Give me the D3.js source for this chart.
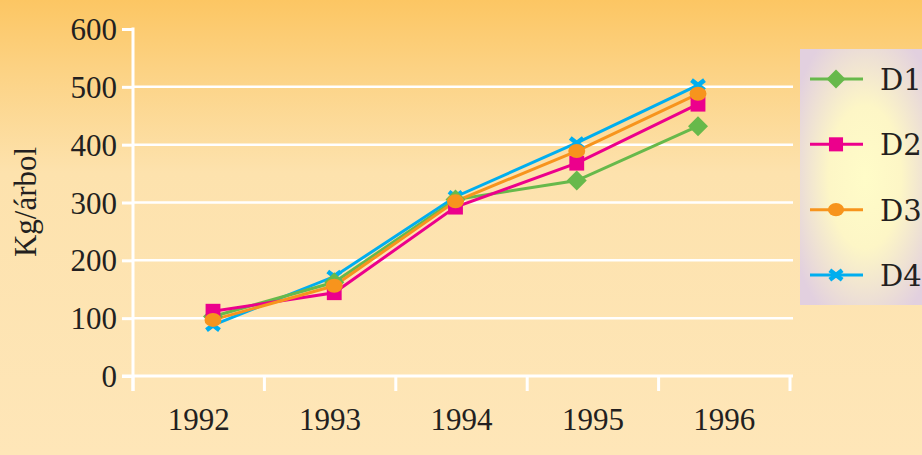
<!DOCTYPE html>
<html>
<head>
<meta charset="utf-8">
<script src="https://d3js.org/d3.v7.min.js"></script>
<style>
  body { margin: 0; padding: 0; overflow: hidden; }
</style>
</head>
<body>
<div id="chart"></div>
<script>

// data (kg per tree)
var years = ["1992", "1993", "1994", "1995", "1996"];
var seriesNames = ["D1", "D2", "D3", "D4"];
var d1 = [103, 162, 305, 338, 432];
var d2 = [112, 144, 292, 368, 470];
var d3v = [97, 156, 302, 389, 488];
var d4 = [88, 172, 310, 403, 503];
var yTicks = [0, 100, 200, 300, 400, 500, 600];
var yTitle = "Kg/árbol";

var colors = { D1: "#67b94b", D2: "#ec008c", D3: "#f7941d", D4: "#00aeef" };
var values = { D1: d1, D2: d2, D3: d3v, D4: d4 };

var FONT = "Liberation Serif";
var INK = "#231f20";

var W = 922, H = 455;

var svg = d3.select("#chart").append("svg")
    .attr("width", W)
    .attr("height", H)
    .style("font-family", "'Liberation Serif', 'DejaVu Serif', serif");

var defs = svg.append("defs");

// background, orange at top fading to cream
var bg = defs.append("linearGradient")
    .attr("id", "bg").attr("x1", 0).attr("y1", 0).attr("x2", 0).attr("y2", 1);
bg.append("stop").attr("offset", "0%").attr("stop-color", "#fcc663");
bg.append("stop").attr("offset", "15%").attr("stop-color", "#fcd283");
bg.append("stop").attr("offset", "38%").attr("stop-color", "#fde2ad");
bg.append("stop").attr("offset", "100%").attr("stop-color", "#fee6b8");

// legend box, yellow centre, lilac edges
var lg = defs.append("radialGradient")
    .attr("id", "lg").attr("cx", "50%").attr("cy", "50%").attr("r", "62%");
lg.append("stop").attr("offset", "0%").attr("stop-color", "#fffcc8");
lg.append("stop").attr("offset", "45%").attr("stop-color", "#fdf6c6");
lg.append("stop").attr("offset", "100%").attr("stop-color", "#e2d0df");

svg.append("rect")
    .attr("width", W).attr("height", H)
    .attr("fill", "url(#bg)");

// scales
var x = d3.scaleBand().domain(years).range([133, 790]);
var xp = d3.scalePoint().domain(years).range([213, 698]);
var y = d3.scaleLinear().domain([0, 600]).range([376, 29]);

// gridlines
svg.selectAll(".grid")
    .data(yTicks.filter(function(t){ return t > 0 && t < 600; }))
    .enter().append("line")
    .attr("class", "grid")
    .attr("x1", 133).attr("x2", 793)
    .attr("y1", function(d){ return y(d); })
    .attr("y2", function(d){ return y(d); })
    .attr("stroke", "#fff").attr("stroke-width", 2.5);

// y axis
var yAxis = svg.append("g")
    .attr("transform", "translate(133,0)")
    .call(d3.axisLeft(y).tickValues(yTicks).tickSize(11).tickPadding(5));
yAxis.attr("font-family", null).attr("font-size", null);
yAxis.select(".domain").remove();
yAxis.selectAll(".tick line").attr("stroke", "#fff").attr("stroke-width", 3);
yAxis.selectAll(".tick text")
    .style("font-family", FONT)
    .style("font-size", "31px")
    .attr("fill", INK)
    .attr("dy", "0.34em");

svg.append("line")
    .attr("x1", 133).attr("x2", 133)
    .attr("y1", y(600) - 1.5).attr("y2", 391)
    .attr("stroke", "#fff").attr("stroke-width", 3);

// x axis
var xAxis = svg.append("g")
    .attr("transform", "translate(0,376)");
xAxis.append("line")
    .attr("x1", 122).attr("x2", 793)
    .attr("stroke", "#fff").attr("stroke-width", 3);
var xEdges = years.map(function(d){ return x(d); }).concat([x.range()[1]]);
xAxis.selectAll(".xtick")
    .data(xEdges)
    .enter().append("line")
    .attr("class", "xtick")
    .attr("x1", function(d){ return d; })
    .attr("x2", function(d){ return d; })
    .attr("y1", 0).attr("y2", 15)
    .attr("stroke", "#fff").attr("stroke-width", 3);
xAxis.selectAll(".xlabel")
    .data(years)
    .enter().append("text")
    .attr("class", "xlabel")
    .attr("x", function(d){ return x(d) + x.bandwidth() / 2; })
    .attr("y", 54)
    .attr("text-anchor", "middle")
    .style("font-family", FONT)
    .style("font-size", "31px")
    .attr("fill", INK)
    .text(function(d){ return d; });

// y title
svg.append("text")
    .attr("transform", "translate(36,202) rotate(-90)")
    .attr("text-anchor", "middle")
    .style("font-family", FONT)
    .style("font-size", "31px")
    .attr("fill", INK)
    .text(yTitle);

// marker drawing
function drawMarker(g, name, cx, cy, scale){
    var s = scale || 1;
    var c = colors[name];
    if (name === "D1"){
        g.append("path")
            .attr("d", d3.symbol().type(d3.symbolSquare).size(200 * s * s)())
            .attr("transform", "translate(" + cx + "," + cy + ") rotate(45)")
            .attr("fill", c);
    } else if (name === "D2"){
        g.append("path")
            .attr("d", d3.symbol().type(d3.symbolSquare).size(220 * s * s)())
            .attr("transform", "translate(" + cx + "," + cy + ")")
            .attr("fill", c);
    } else if (name === "D3"){
        g.append("ellipse")
            .attr("cx", cx).attr("cy", cy)
            .attr("rx", 8.5 * s).attr("ry", 7 * s)
            .attr("fill", c);
    } else {
        var dx = 6.5 * s, dy = 5 * s;
        g.append("path")
            .attr("d", "M" + (cx - dx) + "," + (cy - dy) + "L" + (cx + dx) + "," + (cy + dy) +
                       "M" + (cx + dx) + "," + (cy - dy) + "L" + (cx - dx) + "," + (cy + dy))
            .attr("stroke", c).attr("stroke-width", 4.5).attr("fill", "none");
    }
}

var line = d3.line()
    .x(function(d, i){ return xp(years[i]); })
    .y(function(d){ return y(d); });

var drawOrder = ["D4", "D1", "D2", "D3"];
var plot = svg.append("g");

drawOrder.forEach(function(name){
    plot.append("path")
        .datum(values[name])
        .attr("d", line)
        .attr("fill", "none")
        .attr("stroke", colors[name])
        .attr("stroke-width", 3);
});
drawOrder.forEach(function(name){
    values[name].forEach(function(v, i){
        drawMarker(plot, name, xp(years[i]), y(v));
    });
});

// legend
var legend = svg.append("g");
legend.append("rect")
    .attr("x", 800).attr("y", 49)
    .attr("width", 130).attr("height", 256)
    .attr("fill", "url(#lg)");

var legendY = d3.scalePoint().domain(seriesNames).range([79, 275]);
seriesNames.forEach(function(name){
    var ly = legendY(name);
    legend.append("line")
        .attr("x1", 810).attr("x2", 863)
        .attr("y1", ly).attr("y2", ly)
        .attr("stroke", colors[name]).attr("stroke-width", 3);
    drawMarker(legend, name, 836, ly, 0.95);
    legend.append("text")
        .attr("x", 880).attr("y", ly + 11)
        .style("font-family", "DejaVu Serif")
        .style("font-size", "29px")
        .attr("fill", INK)
        .text(name);
});

</script>
</body>
</html>
